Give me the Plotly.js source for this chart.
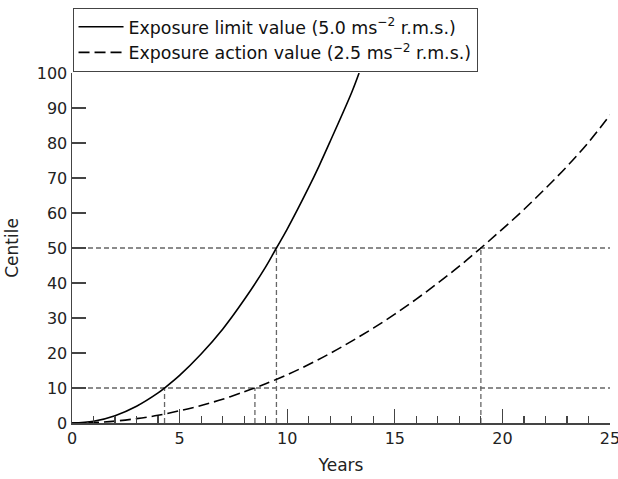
<!DOCTYPE html>
<html>
<head>
<meta charset="utf-8">
<script src="https://cdn.plot.ly/plotly-3.0.1.min.js"></script>
<style>html,body{margin:0;padding:0;background:#fff}#chart{width:618px;height:479px}</style>
</head>
<body>
<div id="chart"></div>
<script>
// Exposure limit value (5.0 ms-2 r.m.s.)
const limitYears   = [0, 1, 2, 3, 4, 4.3, 5, 6, 7, 8, 9, 9.5, 10, 11, 11.5, 12, 13, 13.34];
const limitCentile = [0, 0.5, 2.1, 4.8, 8.6, 10, 13.6, 19.7, 26.8, 35.2, 44.6, 50, 55.4, 67.3, 73.7, 80.5, 94.5, 100];

// Exposure action value (2.5 ms-2 r.m.s.)
const actionYears   = [0, 1, 2, 3, 4, 5, 6, 7, 8, 8.5, 9, 10, 11, 12, 13, 14, 15, 16, 17, 18, 19, 20, 21, 22, 23, 24, 25];
const actionCentile = [0, 0.14, 0.55, 1.25, 2.2, 3.5, 5.0, 6.8, 8.9, 10, 11.2, 13.8, 16.7, 19.9, 23.4, 27.1, 31.1, 35.4, 40, 44.8, 50, 55.4, 61, 67, 73.3, 80.2, 88];

// Reference centiles and the years at which each curve reaches them
const refCentiles   = [10, 50];
const limitCross    = [4.3, 9.5];
const actionCross   = [8.5, 19];
const xRange = [0, 25];
const xTicks = [0, 5, 10, 15, 20, 25];

const seriesNames = [
  'Exposure limit value (5.0 ms<sup>\u22122</sup> r.m.s.)',
  'Exposure action value (2.5 ms<sup>\u22122</sup> r.m.s.)'
];

const refStyle = {color: '#666', width: 1.3, dash: '5px,3px'};
const traces = [];
refCentiles.forEach(c => {
  traces.push({x: xRange, y: [c, c], mode: 'lines', line: refStyle, showlegend: false, hoverinfo: 'skip'});
});
refCentiles.forEach((c, i) => {
  traces.push({x: [limitCross[i], limitCross[i]], y: [0, c], mode: 'lines', line: refStyle, showlegend: false, hoverinfo: 'skip'});
  traces.push({x: [actionCross[i], actionCross[i]], y: [0, c], mode: 'lines', line: refStyle, showlegend: false, hoverinfo: 'skip'});
});
traces.push({x: limitYears, y: limitCentile, mode: 'lines', name: seriesNames[0],
  line: {color: '#000', width: 1.6, shape: 'spline'}});
traces.push({x: actionYears, y: actionCentile, mode: 'lines', name: seriesNames[1],
  line: {color: '#000', width: 1.6, dash: '11px,5px', shape: 'spline'}});

const fam = '"DejaVu Sans", sans-serif';
const layout = {
  width: 618, height: 479,
  margin: {l: 72, r: 8, t: 73, b: 56},
  paper_bgcolor: '#fff', plot_bgcolor: '#fff',
  font: {family: fam, size: 16, color: '#222'},
  showlegend: true,
  legend: {x: 0.001, y: 1.186, xanchor: 'left', yanchor: 'top', bgcolor: '#fff',
    bordercolor: '#444', borderwidth: 1, font: {family: fam, size: 17.4, color: '#111'},
    tracegroupgap: 0, itemwidth: 45},
  xaxis: {range: xRange, tickvals: xTicks, ticks: 'inside', ticklen: 14,
    tickcolor: '#444', tickwidth: 1.3, showline: true, linecolor: '#444', linewidth: 1.5,
    showgrid: false, zeroline: false, ticklabeloverflow: 'allow',
    minor: {dtick: 1, ticks: 'inside', ticklen: 7, tickcolor: '#444', tickwidth: 1.2, showgrid: false},
    title: {text: 'Years', font: {size: 17}, standoff: 12}, fixedrange: true},
  yaxis: {range: [0, 100], dtick: 10, ticks: 'inside', ticklen: 14, tickcolor: '#444', tickwidth: 1.3,
    showline: true, linecolor: '#444', linewidth: 1.5, showgrid: false, zeroline: false,
    title: {text: 'Centile', font: {size: 17}, standoff: 14}, fixedrange: true}
};
Plotly.newPlot('chart', traces, layout, {displayModeBar: false, staticPlot: true});
</script>
</body>
</html>
